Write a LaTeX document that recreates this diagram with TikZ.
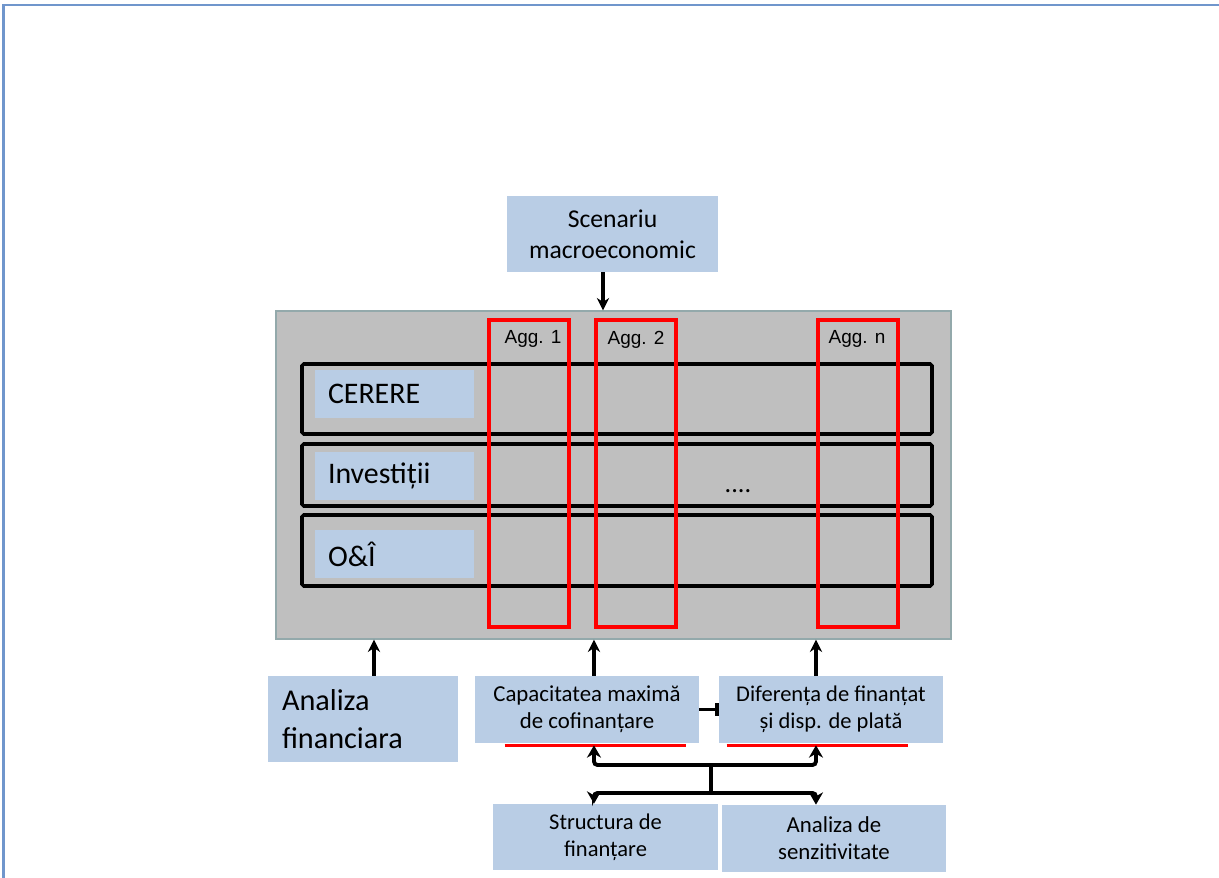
\documentclass[tikz,border=0pt]{standalone}
\usepackage{fontspec}
\setmainfont{Carlito}
\newfontfamily\aggfont{Liberation Sans}
\usepackage{tikz}
\usetikzlibrary{positioning, arrows, arrows.meta}
\definecolor{boxblue}{HTML}{B9CDE5}
\definecolor{modelgray}{HTML}{BFBFBF}
\definecolor{modeledge}{HTML}{93A9AB}
\definecolor{frameblue}{HTML}{7096CC}
\tikzstyle{infobox} = [rectangle, text centered, fill=boxblue, inner sep=0pt]
\tikzstyle{rowlbl} = [rectangle, fill=boxblue, minimum width=3.18cm, minimum height=0.96cm, text width=2.66cm, align=left, inner xsep=0.26cm, font=\fontsize{17}{20}\selectfont]
\tikzstyle{rowbox} = [rectangle, rounded corners=1pt, minimum width=12.6cm, draw=black, line width=2pt]
\tikzstyle{aggbox} = [rectangle, minimum width=1.6cm, minimum height=6.14cm, draw=red, line width=2.3pt]
\tikzstyle{agglbl} = [font=\aggfont\fontsize{10.8}{12}\selectfont, inner sep=0pt]
\tikzstyle{arrow} = [line width=1.8pt,-{Stealth[length=7pt,width=7pt]}]
\tikzstyle{fork} = [line width=2.2pt,-{Stealth[length=7pt,width=8pt]}, rounded corners=2pt]
\def\ttx{0.04}

\begin{document}
\begin{tikzpicture}
\useasboundingbox (0,0) rectangle (24.38,-17.56);
\draw [frameblue, line width=1.6pt] (0.07,-17.6) -- (0.07,-0.1) -- (24.45,-0.1);

\node (scenariu) [infobox, minimum width=4.22cm, minimum height=1.52cm, align=center, font=\fontsize{14.6}{17.5}\selectfont] at (12.25,-4.68) {Scenariu\\macroeconomic};
\node (model) [rectangle, minimum width=13.5cm, minimum height=6.56cm, fill=modelgray, draw=modeledge, line width=0.8pt] at (12.27,-9.5) {};
\draw [arrow] ([xshift=-0.19cm]scenariu.south) -- ([xshift=-0.19cm]scenariu.south |- model.north);

\node (rowcerere) [rowbox, minimum height=1.4cm] at (12.34,-7.98) {};
\node (rowinvest) [rowbox, minimum height=1.24cm] at (12.34,-9.5) {};
\node (rowoi) [rowbox, minimum height=1.42cm] at (12.34,-11.01) {};
\node (lblcerere) [rowlbl] at (7.89,-7.88) {CERERE};
\node (lblinvest) [rowlbl] at (7.89,-9.52) {Investiții};
\node (lbloi) [rowlbl] at (7.89,-11.08) {O\&Î};
\node (dots) [font=\fontsize{15}{16}\selectfont] at (14.76,-9.82) {....};

\node (agg1) [aggbox] at (10.58,-9.47) {};
\node (agg2) [aggbox] at (12.72,-9.47) {};
\node (aggn) [aggbox] at (17.16,-9.47) {};
\node (agg1t) [agglbl, below=0.25cm of agg1.north, xshift=0.08cm] {Agg. 1};
\node (agg2t) [agglbl, below=0.25cm of agg2.north] {Agg. 2};
\node (aggnt) [agglbl, below=0.25cm of aggn.north, xshift=-0.02cm] {Agg. n};

\node (analiza) [infobox, minimum width=3.8cm, minimum height=1.72cm, text width=3.24cm, align=left, inner xsep=0.28cm, font=\fontsize{17.2}{21.5}\selectfont] at (7.26,-14.38) {Analiza\\financiara};
\node (capacitate) [infobox, minimum width=4.48cm, minimum height=1.34cm, align=center, font=\fontsize{13}{15.5}\selectfont] at (11.74,-14.19) {Capacitatea maximă\\de cofinanțare};
\node (diferenta) [infobox, minimum width=4.48cm, minimum height=1.34cm, align=center, font=\fontsize{12.8}{15.5}\selectfont] at (16.62,-14.19) {Diferența de finanțat\\și disp. de plată};
\node (structura) [infobox, minimum width=4.5cm, minimum height=1.32cm, align=center, font=\fontsize{12.8}{15.3}\selectfont] at (12.11,-16.74) {Structura de\\finanțare};
\node (senzitiv) [infobox, minimum width=4.48cm, minimum height=1.34cm, align=center, font=\fontsize{13}{15.3}\selectfont] at (16.68,-16.77) {Analiza de\\senzitivitate};

\draw [arrow] ([xshift=0.22cm]analiza.north) -- ([xshift=0.22cm]analiza.north |- model.south);
\draw [arrow] (agg2.west |- capacitate.north) -- (agg2.west |- model.south);
\draw [arrow] (aggn.west |- diferenta.north) -- (aggn.west |- model.south);
\draw [line width=1.8pt, -{Bar[width=7pt]}] (capacitate.east) -- (diferenta.west);

\draw [red, line width=1.6pt] ([xshift=0.6cm, yshift=-\ttx cm]capacitate.south west) -- ([xshift=-0.26cm, yshift=-\ttx cm]capacitate.south east);
\draw [red, line width=1.6pt] ([xshift=0.16cm, yshift=-\ttx cm]diferenta.south west) -- ([xshift=-0.7cm, yshift=-\ttx cm]diferenta.south east);

\coordinate (forktop) at (14.22,-15.3);
\coordinate (forkbot) at (14.22,-15.86);
\draw [line width=2.2pt] (forktop) -- (forkbot);
\draw [fork] (forktop) -| ([yshift=-\ttx cm]agg2.west |- capacitate.south);
\draw [fork] (forktop) -| ([yshift=-\ttx cm]aggn.west |- diferenta.south);
\draw [fork] (forkbot) -| (agg2.west |- structura.north);
\draw [fork] (forkbot) -| (aggn.west |- senzitiv.north);

\end{tikzpicture}
\end{document}
